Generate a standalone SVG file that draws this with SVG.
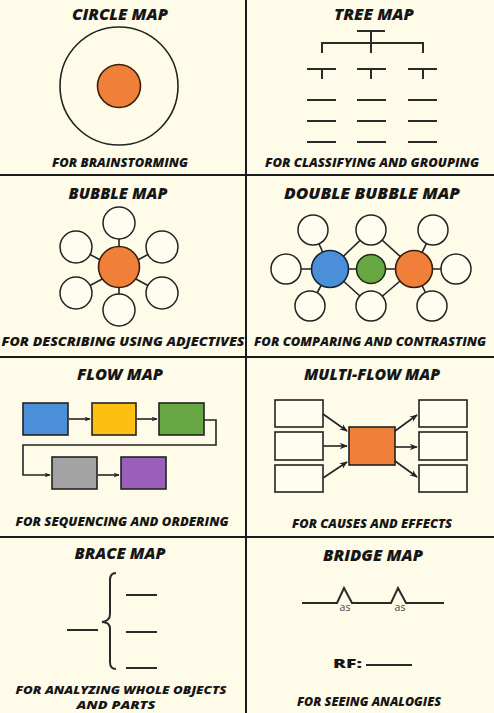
<svg xmlns="http://www.w3.org/2000/svg" width="494" height="713" viewBox="0 0 494 713">
<defs>
<style>
.t{font-family:"Open Sans","Liberation Sans",sans-serif;font-weight:800;font-style:italic;fill:#161616;text-anchor:middle}
.title{font-size:15px}
.cap{font-size:12.5px}
.cap2{font-size:11.2px}
.ln{stroke:#222;stroke-width:1.6;fill:none}
.tr{stroke:#2a2a2a;stroke-width:2;fill:none}
.bub{stroke:#222;stroke-width:1.5;fill:#fffdf0}
.grid{stroke:#1a1a1a;stroke-width:2}
.box{stroke:#222;stroke-width:1.6}
.as{font-family:"Open Sans","Liberation Sans",sans-serif;font-size:10.5px;fill:#444;text-anchor:middle}
</style>
<marker id="ah" viewBox="0 0 10 10" refX="9" refY="5" markerWidth="6" markerHeight="6" orient="auto" markerUnits="userSpaceOnUse">
<path d="M0,1 L10,5 L0,9 L3,5 z" fill="#222"/>
</marker>
<marker id="ah2" viewBox="0 0 10 10" refX="9" refY="5" markerWidth="9" markerHeight="8" orient="auto" markerUnits="userSpaceOnUse">
<path d="M0,1 L10,5 L0,9 L3,5 z" fill="#222"/>
</marker>
</defs>
<rect width="494" height="713" fill="#fefce9"/>
<g id="grid">
<line class="grid" x1="246" y1="0" x2="246" y2="713"/>
<line class="grid" x1="0" y1="175" x2="494" y2="175"/>
<line class="grid" x1="0" y1="357" x2="494" y2="357"/>
<line class="grid" x1="0" y1="537" x2="494" y2="537"/>
</g>

<g id="circle-map">
<text class="t title" x="120" y="19.5" textLength="96" lengthAdjust="spacingAndGlyphs">CIRCLE MAP</text>
<circle cx="119" cy="86" r="59" class="ln"/>
<circle cx="119" cy="86" r="21.5" fill="#f07f3a" stroke="#3a1d0e" stroke-width="1.6"/>
<text class="t cap" x="120" y="167" textLength="136" lengthAdjust="spacingAndGlyphs">FOR BRAINSTORMING</text>
</g>

<g id="tree-map">
<text class="t title" x="374" y="19.5" textLength="80" lengthAdjust="spacingAndGlyphs">TREE MAP</text>
<path class="tr" d="M357 31 H385 M371 31 V53 M322 53 V43 H423 V53"/>
<path class="tr" d="M307 69 H336 M322 69 V79 M357 69 H386 M371 69 V79 M408 69 H437 M423 69 V79"/>
<path class="tr" d="M307 100 H336 M357 100 H386 M408 100 H437 M307 121 H336 M357 121 H386 M408 121 H437 M307 142 H336 M357 142 H386 M408 142 H437"/>
<text class="t cap" x="372" y="167" textLength="214" lengthAdjust="spacingAndGlyphs">FOR CLASSIFYING AND GROUPING</text>
</g>

<g id="bubble-map">
<text class="t title" x="118" y="199" textLength="99" lengthAdjust="spacingAndGlyphs">BUBBLE MAP</text>
<g class="ln">
<line x1="119" y1="223" x2="119" y2="310"/>
<line x1="76" y1="247" x2="162" y2="293"/>
<line x1="162" y1="247" x2="76" y2="293"/>
</g>
<circle class="bub" cx="119" cy="223" r="16"/>
<circle class="bub" cx="119" cy="310" r="16"/>
<circle class="bub" cx="76" cy="247" r="16"/>
<circle class="bub" cx="162" cy="247" r="16"/>
<circle class="bub" cx="76" cy="293" r="16"/>
<circle class="bub" cx="162" cy="293" r="16"/>
<circle cx="119" cy="267" r="20.5" fill="#f07f3a" stroke="#3a1d0e" stroke-width="1.6"/>
<text class="t cap" x="123" y="346" textLength="243" lengthAdjust="spacingAndGlyphs">FOR DESCRIBING USING ADJECTIVES</text>
</g>

<g id="double-bubble-map">
<text class="t title" x="372" y="199" textLength="176" lengthAdjust="spacingAndGlyphs">DOUBLE BUBBLE MAP</text>
<g class="ln">
<line x1="286" y1="269" x2="456" y2="269"/>
<line x1="330" y1="269" x2="313" y2="230"/>
<line x1="330" y1="269" x2="310" y2="306"/>
<line x1="330" y1="269" x2="371" y2="230"/>
<line x1="330" y1="269" x2="371" y2="306"/>
<line x1="414" y1="269" x2="371" y2="230"/>
<line x1="414" y1="269" x2="371" y2="306"/>
<line x1="414" y1="269" x2="433" y2="230"/>
<line x1="414" y1="269" x2="432" y2="306"/>
</g>
<circle class="bub" cx="313" cy="230" r="15"/>
<circle class="bub" cx="371" cy="230" r="15"/>
<circle class="bub" cx="433" cy="230" r="15"/>
<circle class="bub" cx="286" cy="269" r="15"/>
<circle class="bub" cx="456" cy="269" r="15"/>
<circle class="bub" cx="310" cy="306" r="15"/>
<circle class="bub" cx="371" cy="306" r="15"/>
<circle class="bub" cx="432" cy="306" r="15"/>
<circle cx="330" cy="269" r="18.5" fill="#4a8fd8" stroke="#14263a" stroke-width="1.6"/>
<circle cx="371" cy="269" r="14.5" fill="#67a844" stroke="#1c2c12" stroke-width="1.6"/>
<circle cx="414" cy="269" r="18.5" fill="#f07f3a" stroke="#3a1d0e" stroke-width="1.6"/>
<text class="t cap" x="370" y="346" textLength="232" lengthAdjust="spacingAndGlyphs">FOR COMPARING AND CONTRASTING</text>
</g>

<g id="flow-map">
<text class="t title" x="120" y="380" textLength="86" lengthAdjust="spacingAndGlyphs">FLOW MAP</text>
<rect class="box" x="23" y="403" width="45" height="32" fill="#4a8fd8"/>
<rect class="box" x="92" y="403" width="44" height="32" fill="#fdc012"/>
<rect class="box" x="159" y="403" width="45" height="32" fill="#67a844"/>
<rect class="box" x="52" y="457" width="45" height="32" fill="#a3a3a3"/>
<rect class="box" x="121" y="457" width="45" height="32" fill="#9a5fb8"/>
<text class="t cap" x="122" y="526" textLength="213" lengthAdjust="spacingAndGlyphs">FOR SEQUENCING AND ORDERING</text>
</g>

<g id="multi-flow-map">
<text class="t title" x="372" y="380" textLength="136" lengthAdjust="spacingAndGlyphs">MULTI-FLOW MAP</text>
<rect class="box" x="275" y="400" width="48" height="27" fill="#fffdf0"/>
<rect class="box" x="275" y="432" width="48" height="28" fill="#fffdf0"/>
<rect class="box" x="275" y="465" width="48" height="27" fill="#fffdf0"/>
<rect class="box" x="349" y="427" width="46" height="38" fill="#f07f3a"/>
<rect class="box" x="419" y="400" width="48" height="27" fill="#fffdf0"/>
<rect class="box" x="419" y="432" width="48" height="28" fill="#fffdf0"/>
<rect class="box" x="419" y="465" width="48" height="27" fill="#fffdf0"/>
<text class="t cap" x="372" y="528" textLength="160" lengthAdjust="spacingAndGlyphs">FOR CAUSES AND EFFECTS</text>
</g>

<g id="connectors">
<line class="ln" x1="69" y1="419" x2="90" y2="419" marker-end="url(#ah)"/>
<line class="ln" x1="137" y1="419" x2="157" y2="419" marker-end="url(#ah)"/>
<path class="ln" d="M204 420 H216 V445 H23 V475 H50" marker-end="url(#ah)"/>
<line class="ln" x1="98" y1="475" x2="119" y2="475" marker-end="url(#ah)"/>
<line class="ln" x1="323" y1="414" x2="347" y2="431" marker-end="url(#ah2)"/>
<line class="ln" x1="323" y1="446" x2="347" y2="446" marker-end="url(#ah2)"/>
<line class="ln" x1="323" y1="478" x2="347" y2="462" marker-end="url(#ah2)"/>
<line class="ln" x1="395" y1="431" x2="417" y2="415" marker-end="url(#ah2)"/>
<line class="ln" x1="395" y1="447" x2="417" y2="447" marker-end="url(#ah2)"/>
<line class="ln" x1="395" y1="461" x2="417" y2="477" marker-end="url(#ah2)"/>
</g>

<g id="brace-map">
<text class="t title" x="120" y="559" textLength="91" lengthAdjust="spacingAndGlyphs">BRACE MAP</text>
<path class="tr" d="M116 573 Q110 573 110 580 L110 614 Q110 621 102 622 Q110 622 110 629 L110 662 Q110 669 116 669"/>
<path class="tr" d="M67 630 H98 M126 595 H157 M126 632 H157 M126 668 H157"/>
<text class="t cap2" x="121" y="694" textLength="211" lengthAdjust="spacingAndGlyphs">FOR ANALYZING WHOLE OBJECTS</text>
<text class="t cap2" x="116" y="709" textLength="79" lengthAdjust="spacingAndGlyphs">AND PARTS</text>
</g>

<g id="bridge-map">
<text class="t title" x="373" y="561" textLength="100" lengthAdjust="spacingAndGlyphs">BRIDGE MAP</text>
<text class="as" x="345" y="611">as</text>
<text class="as" x="400" y="611">as</text>
<polyline class="tr" points="302,603 337,603 344,588 352,603 391,603 398,588 406,603 444,603"/>
<text x="333" y="668" font-family="Open Sans, Liberation Sans, sans-serif" font-weight="800" font-size="13" fill="#161616" textLength="29" lengthAdjust="spacingAndGlyphs">RF:</text>
<line class="tr" x1="366" y1="665" x2="412" y2="665"/>
<text class="t cap" x="369" y="706" textLength="144" lengthAdjust="spacingAndGlyphs">FOR SEEING ANALOGIES</text>
</g>
</svg>
